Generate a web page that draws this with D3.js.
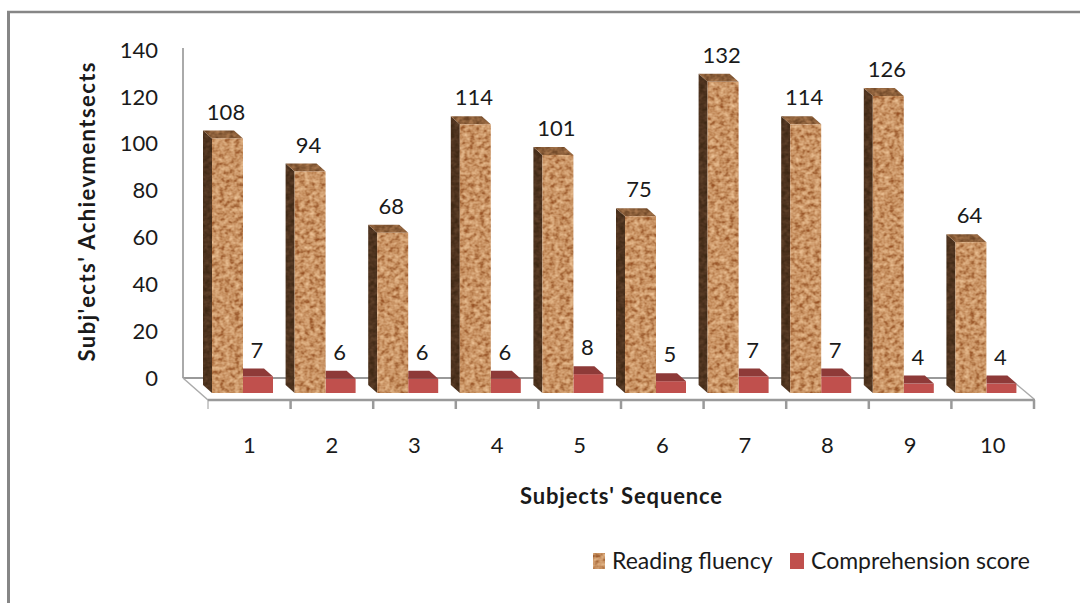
<!DOCTYPE html>
<html><head><meta charset="utf-8">
<script src="https://cdn.jsdelivr.net/npm/d3@7/dist/d3.min.js"></script>
<style>html,body{margin:0;padding:0;background:#fff}svg{display:block}text{font-family:Lato,"Open Sans",sans-serif;fill:#1a1a1a}</style>
</head><body><svg id="c" width="1080" height="603"></svg>
<script>
const categories=["1","2","3","4","5","6","7","8","9","10"];
const readingFluency=[108,94,68,114,101,75,132,114,126,64];
const comprehensionScore=[7,6,6,6,8,5,7,7,4,4];
const yTicks=[0,20,40,60,80,100,120,140];
const seriesNames=["Reading fluency","Comprehension score"];
const yTitle="Subj'ects' Achievmentsects";
const xTitle="Subjects' Sequence";

const svg=d3.select("#c");
const defs=svg.append("defs");
function cork(id,seed,tbl){
  const f=defs.append("filter").attr("id",id).attr("x",0).attr("y",0).attr("width",1).attr("height",1)
    .attr("color-interpolation-filters","sRGB");
  f.append("feTurbulence").attr("type","fractalNoise").attr("baseFrequency","0.2 0.24").attr("numOctaves",2).attr("seed",seed).attr("result","n");
  f.append("feColorMatrix").attr("in","n").attr("type","matrix")
    .attr("values","1 0 0 0 0 1 0 0 0 0 1 0 0 0 0 0 0 0 0 1").attr("result","g");
  const t=f.append("feComponentTransfer").attr("in","g").attr("result","col");
  t.append("feFuncR").attr("type","table").attr("tableValues",tbl[0]);
  t.append("feFuncG").attr("type","table").attr("tableValues",tbl[1]);
  t.append("feFuncB").attr("type","table").attr("tableValues",tbl[2]);
  f.append("feComposite").attr("in","col").attr("in2","SourceAlpha").attr("operator","in");
}
cork("corkFront",4,["0.60 0.60 0.66 0.76 0.82 0.87 0.92 0.94","0.32 0.32 0.42 0.54 0.62 0.69 0.75 0.78","0.14 0.14 0.24 0.35 0.44 0.51 0.58 0.62"]);
cork("corkSide",9,["0.24 0.24 0.26 0.29 0.32 0.35 0.38 0.40","0.15 0.15 0.17 0.19 0.21 0.24 0.26 0.28","0.07 0.07 0.09 0.11 0.13 0.15 0.17 0.18"]);
cork("corkTop",2,["0.42 0.42 0.46 0.52 0.58 0.64 0.68 0.70","0.26 0.26 0.30 0.35 0.40 0.45 0.48 0.50","0.14 0.14 0.17 0.21 0.25 0.29 0.32 0.34"]);

const x=d3.scaleBand().domain(categories).range([208,1034]);
const h=d3.scaleLinear().domain([0,140]).range([0,330]);
const yLabel=d3.scaleLinear().domain([0,140]).range([378,50]);
const grey="#9a9a9a";

// frame: left and top edges only
svg.append("line").attr("x1",8.5).attr("x2",8.5).attr("y1",11).attr("y2",603).attr("stroke","#868686").attr("stroke-width",3);
svg.append("line").attr("x1",7).attr("x2",1080).attr("y1",12).attr("y2",12).attr("stroke","#868686").attr("stroke-width",2.5);

// walls and floor
const lineG=svg.append("g").attr("fill","none").attr("stroke",grey);
lineG.append("line").attr("x1",183).attr("x2",183).attr("y1",48).attr("y2",378).attr("stroke","#aaa").attr("stroke-width",2);
lineG.append("path").attr("d",d3.line()([[183,378],[1009,378]])).attr("stroke-width",2);
lineG.append("path").attr("d",d3.line()([[183,378],[208,400]])).attr("stroke","#aaa").attr("stroke-width",1.5);
lineG.append("path").attr("d",d3.line()([[1009,378],[1034,399]])).attr("stroke","#aaa").attr("stroke-width",1.5);
lineG.append("line").attr("x1",208).attr("x2",1035).attr("y1",400).attr("y2",400).attr("stroke-width",2.5);
categories.concat(["end"]).forEach((c,i)=>{
  const tx=208+i*x.step();
  lineG.append("line").attr("x1",tx).attr("x2",tx).attr("y1",400).attr("y2",409).attr("stroke-width",i===0?1:2.5);
});

// y tick labels
svg.append("g").selectAll("text").data(yTicks).join("text")
  .attr("x",158).attr("y",d=>yLabel(d)).attr("dy","0.35em").attr("text-anchor","end").attr("font-size",22).text(d=>d);

const frontBottom=393, depthX=9, depthY=8;
const bars=svg.append("g");
categories.forEach((c,i)=>{
  const x0=x(c)+4;
  const rH=h(readingFluency[i]), cH=h(comprehensionScore[i]);
  const w=31, cx0=x0+w, cw=30;
  // comprehension
  bars.append("rect").attr("x",cx0).attr("y",frontBottom-cH).attr("width",cw).attr("height",cH).attr("fill","#c0504d");
  bars.append("path").attr("fill","#8e3a38").attr("d",d3.line()([
    [cx0,frontBottom-cH],[cx0+cw,frontBottom-cH],[cx0+cw-depthX,frontBottom-cH-depthY],[cx0,frontBottom-cH-depthY]]));
  // reading side
  bars.append("path").attr("filter","url(#corkSide)").attr("fill","#000").attr("d",d3.line()([
    [x0-depthX,frontBottom-rH-depthY],[x0,frontBottom-rH],[x0,frontBottom],[x0-depthX,frontBottom-depthY]]));
  // reading top
  bars.append("path").attr("filter","url(#corkTop)").attr("fill","#000").attr("d",d3.line()([
    [x0-depthX,frontBottom-rH-depthY],[x0+w-depthX,frontBottom-rH-depthY],[x0+w,frontBottom-rH],[x0,frontBottom-rH]]));
  // reading front
  bars.append("rect").attr("filter","url(#corkFront)").attr("x",x0).attr("y",frontBottom-rH).attr("width",w).attr("height",rH);
  // labels
  svg.append("text").attr("x",x0+14).attr("y",frontBottom-rH-depthY-18.5).attr("dy","0.35em").attr("text-anchor","middle").attr("font-size",22).text(readingFluency[i]);
  svg.append("text").attr("x",cx0+14).attr("y",frontBottom-cH-depthY-18.5).attr("dy","0.35em").attr("text-anchor","middle").attr("font-size",22).text(comprehensionScore[i]);
  // category
  svg.append("text").attr("x",x(c)+x.bandwidth()/2).attr("y",445).attr("dy","0.35em").attr("text-anchor","middle").attr("font-size",22).text(c);
});

// titles
svg.append("text").attr("transform","translate(87,212) rotate(-90)").attr("text-anchor","middle").attr("dy","0.35em").attr("font-size",22).attr("font-weight",700)
  .attr("textLength",299).attr("lengthAdjust","spacing").text(yTitle);
svg.append("text").attr("x",621).attr("y",496).attr("dy","0.35em").attr("text-anchor","middle").attr("font-size",22).attr("font-weight",700)
  .attr("textLength",202).attr("lengthAdjust","spacing").text(xTitle);

// legend
const lg=svg.append("g");
lg.append("rect").attr("filter","url(#corkFront)").attr("x",593).attr("y",553).attr("width",12).attr("height",16);
lg.append("rect").attr("x",790).attr("y",553).attr("width",14).attr("height",16).attr("fill","#c0504d");
lg.append("text").attr("x",612).attr("y",561).attr("dy","0.35em").attr("font-size",23).text(seriesNames[0]);
lg.append("text").attr("x",811).attr("y",561).attr("dy","0.35em").attr("font-size",23).text(seriesNames[1]);
</script></body></html>
